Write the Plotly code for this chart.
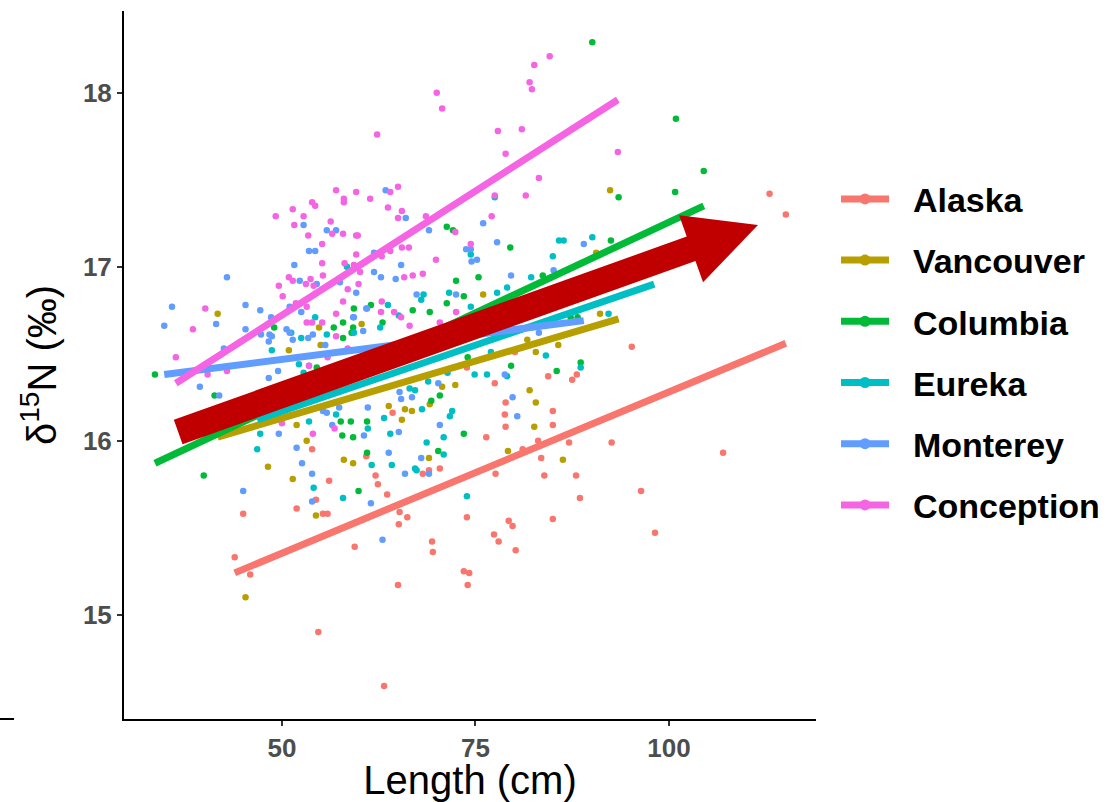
import math
import plotly.graph_objects as go

# ---------------- data ----------------
groups = ["Alaska", "Vancouver", "Columbia", "Eureka", "Monterey", "Conception"]
colors = ["#F8766D", "#B79F00", "#00BA38", "#00BFC4", "#619CFF", "#F564E3"]

alaska_len = [43.9, 45.0, 45.9, 53.9, 54.4, 56.1, 51.9, 55.3, 55.9, 59.4, 62.1, 62.4, 63.6, 60.9,
              64.3, 65.2, 65.1, 66.2, 65.0, 54.7, 63.2, 73.9, 77.5, 78.9, 78.8, 78.9, 76.4, 81.1,
              83.1, 85.0, 85.0, 87.1, 83.5, 83.9, 88.0, 88.5, 92.6, 96.4, 98.2, 107.0, 85.0, 77.6,
              73.9, 77.4, 78.0, 79.3, 79.8, 80.2, 73.5, 74.2, 74.0, 69.4, 69.5, 70.4, 69.0, 68.2,
              87.5, 88.1, 84.4, 95.2, 113.0, 115.1, 80.1]
alaska_d15n = [15.33, 15.58, 15.23, 15.95, 15.66, 15.77, 15.61, 15.58, 15.58, 15.39, 15.80, 15.75,
               15.69, 15.91, 16.16, 15.59, 15.52, 15.56, 15.17, 14.90, 14.59, 16.42, 16.33, 16.22,
               16.15, 16.08, 16.02, 15.95, 16.00, 16.17, 16.09, 15.99, 15.90, 15.80, 15.80, 15.67,
               15.99, 15.71, 15.47, 15.93, 15.55, 15.81, 15.56, 15.46, 15.42, 15.54, 15.51, 15.37,
               15.25, 15.24, 15.17, 15.42, 15.36, 15.84, 15.83, 15.81, 16.35, 16.38, 16.37, 16.54,
               17.42, 17.30, 16.51]

vancouver_len = [41.7, 50.9, 54.8, 60.3, 55.0, 45.3, 48.2, 51.4, 54.4, 58.0, 59.2, 51.9, 53.2,
                 63.8, 65.5, 65.9, 66.8, 92.4, 90.6, 76.0, 91.1, 81.7, 82.8, 85.7, 82.0, 70.7,
                 72.4, 82.8, 82.6, 79.2, 86.3, 69.0, 69.1]
vancouver_d15n = [16.73, 16.52, 16.65, 16.67, 16.55, 15.10, 15.85, 15.78, 15.57, 15.89, 15.87,
                  16.09, 16.00, 16.20, 16.12, 16.18, 16.17, 17.44, 17.08, 16.84, 16.73, 16.58,
                  16.51, 16.55, 16.29, 16.31, 16.32, 16.22, 16.08, 15.94, 15.89, 15.90, 16.21]

columbia_len = [33.6, 49.0, 59.3, 61.5, 63.0, 57.9, 56.7, 59.2, 59.0, 54.5, 66.9, 41.3, 39.9,
                59.9, 57.8, 59.2, 58.9, 57.6, 61.0, 61.0, 90.1, 100.9, 104.5, 100.8, 93.5, 71.3,
                72.1, 79.5, 92.5, 75.4, 72.5, 73.5, 71.3, 69.1, 83.7, 88.2, 87.3, 79.6, 85.5,
                88.6, 74.0, 70.4, 73.5, 70.2, 69.3, 57.9]
columbia_d15n = [16.38, 16.65, 16.76, 16.78, 16.68, 16.68, 16.65, 16.65, 16.62, 16.42, 16.75,
                 16.26, 15.80, 15.71, 16.03, 16.02, 16.11, 16.11, 15.93, 16.11, 18.29, 17.85,
                 17.55, 17.43, 17.40, 17.23, 17.21, 17.11, 17.15, 16.94, 16.92, 16.83, 16.79,
                 16.74, 16.95, 16.71, 16.71, 16.43, 16.40, 16.45, 16.48, 16.26, 16.04, 15.94,
                 16.23, 16.59]

eureka_len = [54.3, 51.2, 59.3, 48.7, 52.2, 63.7, 62.7, 52.5, 58.4, 46.8, 47.2, 54.1, 57.9, 61.1,
              61.6, 63.2, 64.0, 64.2, 67.2, 67.4, 57.0, 53.5, 85.8, 86.4, 90.1, 85.0, 82.2, 79.1,
              77.8, 71.6, 68.3, 68.0, 74.4, 74.4, 92.2, 77.0, 84.1, 74.9, 76.5, 88.6, 79.1, 68.9,
              71.4, 66.5, 67.2, 73.9, 70.9, 70.9, 68.7, 72.0, 71.7, 68.1, 52.8, 55.8, 65.1, 77.5]
eureka_d15n = [16.71, 16.62, 16.62, 16.52, 16.44, 16.78, 16.65, 16.59, 17.00, 15.95, 16.04,
               15.73, 15.67, 16.07, 15.86, 16.13, 16.04, 15.86, 15.84, 15.83, 16.15, 16.11,
               17.15, 17.15, 17.17, 17.06, 16.94, 16.88, 16.85, 16.85, 16.84, 16.81, 16.77,
               17.07, 16.73, 16.51, 16.49, 16.38, 16.38, 16.42, 16.37, 16.34, 16.39, 16.30,
               16.29, 15.68, 16.02, 15.92, 15.99, 16.17, 16.14, 16.18, 16.39, 16.61, 16.72, 17.40]

monterey_len = [63.4, 52.8, 55.8, 66.0, 53.5, 54.3, 51.6, 65.4, 42.9, 61.9, 62.8, 64.7, 52.3,
                54.5, 57.5, 59.6, 67.4, 35.8, 34.8, 45.3, 47.2, 48.6, 51.0, 52.5, 59.3, 61.0,
                41.5, 45.3, 47.3, 48.4, 48.7, 48.3, 50.6, 51.0, 51.4, 53.4, 54.0, 60.5, 42.5,
                39.4, 48.3, 49.5, 53.5, 45.0, 49.6, 51.9, 52.6, 53.9, 53.9, 60.6, 63.8, 65.9,
                61.5, 63.0, 65.1, 61.1, 57.4, 55.3, 55.8, 56.5, 41.9, 69.0, 76.0, 77.8, 73.8,
                74.4, 74.5, 75.2, 79.6, 85.1, 89.0, 72.5, 83.2, 70.2, 66.8, 79.8, 78.8, 80.4,
                70.4, 68.0, 69.0, 65.2, 65.4, 57.0, 61.9, 60.9, 59.2, 55.6]
monterey_d15n = [17.44, 17.24, 17.21, 17.28, 17.09, 17.09, 17.01, 17.01, 16.94, 16.97, 16.94,
                 16.93, 16.92, 16.90, 16.91, 16.85, 16.84, 16.77, 16.66, 16.78, 16.75, 16.71,
                 16.77, 16.74, 16.71, 16.76, 16.67, 16.64, 16.61, 16.61, 16.60, 16.57, 16.64,
                 16.62, 16.58, 16.59, 16.61, 16.63, 16.53, 16.31, 16.36, 16.40, 16.43, 15.71,
                 16.04, 15.96, 15.87, 15.81, 15.65, 16.03, 15.93, 15.81, 15.64, 15.43, 16.05,
                 16.19, 16.19, 16.17, 16.16, 16.09, 16.26, 17.21, 17.25, 17.14, 17.10, 17.10,
                 17.03, 17.04, 16.95, 16.98, 17.13, 16.84, 16.62, 16.33, 16.25, 16.25, 16.38,
                 16.14, 16.09, 15.90, 15.81, 16.28, 16.24, 17.21, 17.08, 16.76, 16.71, 16.55]

conception_len = [62.3, 57.0, 59.6, 58.0, 58.0, 61.4, 65.0, 64.0, 53.9, 54.3, 63.7, 65.5, 65.0,
                  51.4, 49.2, 52.8, 51.6, 56.3, 53.4, 56.5, 57.9, 59.6, 59.8, 55.2, 59.6, 62.9,
                  65.5, 66.4, 55.2, 58.1, 59.3, 60.1, 55.3, 50.9, 51.4, 53.7, 49.6, 53.1, 54.1,
                  59.9, 65.8, 66.9, 50.1, 57.9, 58.5, 62.8, 64.5, 65.4, 66.5, 51.8, 53.2, 40.1,
                  38.5, 53.2, 53.9, 55.2, 57.0, 58.5, 36.3, 40.4, 42.9, 53.5, 55.9, 84.6, 82.6,
                  82.0, 82.3, 70.0, 70.7, 77.9, 81.0, 78.9, 93.4, 83.2, 77.5, 81.5, 77.1, 68.6,
                  72.4, 74.4, 69.9, 68.2, 72.5, 70.4, 54.0, 50.0, 56.8, 64.0, 62.9, 57.0]
conception_d15n = [17.76, 17.44, 17.43, 17.39, 17.37, 17.39, 17.46, 17.43, 17.37, 17.35, 17.34,
                   17.32, 17.28, 17.33, 17.29, 17.29, 17.24, 17.26, 17.18, 17.19, 17.19, 17.18,
                   17.18, 17.13, 17.07, 17.06, 17.11, 17.11, 17.02, 17.02, 17.01, 16.97, 16.95,
                   16.94, 16.92, 16.93, 16.89, 16.90, 16.89, 16.90, 16.94, 16.95, 16.83, 16.80,
                   16.87, 16.74, 16.74, 16.71, 16.66, 16.79, 16.77, 16.76, 16.64, 16.68, 16.68,
                   16.68, 16.60, 16.53, 16.48, 16.38, 16.40, 16.43, 16.48, 18.21, 18.16, 18.06,
                   18.02, 18.00, 17.91, 17.78, 17.79, 17.65, 17.66, 17.51, 17.41, 17.41, 17.29,
                   17.29, 17.20, 17.13, 17.04, 16.96, 16.74, 16.68, 16.04, 16.10, 16.07, 17.09,
                   16.80, 16.73]

group_len = [alaska_len, vancouver_len, columbia_len, eureka_len, monterey_len, conception_len]
group_d15n = [alaska_d15n, vancouver_d15n, columbia_d15n, eureka_d15n, monterey_d15n, conception_d15n]

# fitted (lm) lines per group
fit_x_start = [43.9, 41.7, 33.6, 46.8, 34.8, 36.3]
fit_x_end = [115.1, 93.5, 104.5, 98.1, 89.0, 93.4]
fit_y_start = [15.24, 16.02, 15.87, 16.12, 16.38, 16.33]
fit_y_end = [16.56, 16.70, 17.35, 16.90, 16.69, 17.96]

# big trend arrow (tail and tip in data units)
arrow_tail = (36.6, 16.05)
arrow_tip = (111.5, 17.24)

x_ticks = [50, 75, 100]
y_ticks = [15, 16, 17, 18]

# ---------------- layout geometry ----------------
W, H = 1115, 802
ML, MR, MT, MB = 124, 299, 11, 83
XR = [29.6, 119.0]
YR = [14.40, 18.47]
FONT = "Liberation Sans, Arial, Helvetica, sans-serif"

fig = go.Figure()

for g, c, xs, ys in zip(groups, colors, group_len, group_d15n):
    fig.add_trace(go.Scatter(x=xs, y=ys, mode="markers", name=g, legendgroup=g,
                             showlegend=False, hoverinfo="skip",
                             marker=dict(color=c, size=6.5, line=dict(width=0))))

for g, c, x0, x1, y0, y1 in zip(groups, colors, fit_x_start, fit_x_end, fit_y_start, fit_y_end):
    fig.add_trace(go.Scatter(x=[x0, x1], y=[y0, y1], mode="lines", name=g, legendgroup=g,
                             showlegend=False, line=dict(color=c, width=7)))

for g, c in zip(groups, colors):
    fig.add_trace(go.Scatter(x=[None], y=[None], mode="lines+markers",
                             name="\u00a0\u00a0" + g, legendgroup=g,
                             showlegend=True, line=dict(color=c, width=7),
                             marker=dict(color=c, size=11)))

# arrow polygon built in pixel space then mapped back to data units
sx = (W - ML - MR) / (XR[1] - XR[0])
sy = (H - MT - MB) / (YR[1] - YR[0])
p0 = ((arrow_tail[0] - XR[0]) * sx, (arrow_tail[1] - YR[0]) * sy)
p1 = ((arrow_tip[0] - XR[0]) * sx, (arrow_tip[1] - YR[0]) * sy)
dx, dy = p1[0] - p0[0], p1[1] - p0[1]
L = math.hypot(dx, dy)
ux, uy = dx / L, dy / L
nx, ny = -uy, ux
head_len, head_half, shaft_half = 71, 35.6, 13
bx, by = p1[0] - ux * head_len, p1[1] - uy * head_len
poly = [
    (p0[0] + nx * shaft_half, p0[1] + ny * shaft_half),
    (bx + nx * shaft_half, by + ny * shaft_half),
    (bx + nx * head_half, by + ny * head_half),
    p1,
    (bx - nx * head_half, by - ny * head_half),
    (bx - nx * shaft_half, by - ny * shaft_half),
    (p0[0] - nx * shaft_half, p0[1] - ny * shaft_half),
]
path = ""
for i, (px, py) in enumerate(poly):
    path += ("M" if i == 0 else "L") + f"{XR[0] + px / sx:.4f},{YR[0] + py / sy:.4f} "
path += "Z"
fig.add_shape(type="path", path=path, xref="x", yref="y", fillcolor="#C00000",
              line=dict(width=0), layer="above")

# stray short tick at the lower left of the picture
fig.add_shape(type="line", xref="paper", yref="paper",
              x0=(0 - ML) / (W - ML - MR), x1=(14 - ML) / (W - ML - MR), y0=0, y1=0,
              line=dict(color="black", width=2))

tickfont = dict(family=FONT, size=26, color="#4D4D4D", weight="bold")
fig.update_layout(
    width=W, height=H,
    margin=dict(l=ML, r=MR, t=MT, b=MB, autoexpand=False),
    paper_bgcolor="white", plot_bgcolor="white",
    font=dict(family=FONT),
    xaxis=dict(range=XR, tickvals=x_ticks, ticktext=[str(v) for v in x_ticks],
               showgrid=False, zeroline=False, showline=True, linecolor="black", linewidth=2,
               ticks="outside", ticklen=5, tickwidth=2, tickcolor="#333333",
               tickfont=tickfont,
               title=dict(text="Length (cm)", font=dict(family=FONT, size=40, color="black"),
                          standoff=11)),
    yaxis=dict(range=YR, tickvals=y_ticks, ticktext=[str(v) for v in y_ticks],
               showgrid=False, zeroline=False, showline=True, linecolor="black", linewidth=2,
               ticks="outside", ticklen=5, tickwidth=2, tickcolor="#333333",
               tickfont=tickfont,
               title=dict(text="δ<sup>15</sup>N (‰)", font=dict(family=FONT, size=40, color="black"),
                          standoff=14)),
    legend=dict(x=(836 - ML) / (W - ML - MR), xanchor="left", y=0.775, yanchor="top",
                font=dict(family=FONT, size=34, color="black", weight="bold"),
                tracegroupgap=14, itemwidth=48, bgcolor="rgba(0,0,0,0)"),
    showlegend=True,
)

fig.write_html("out.html")
